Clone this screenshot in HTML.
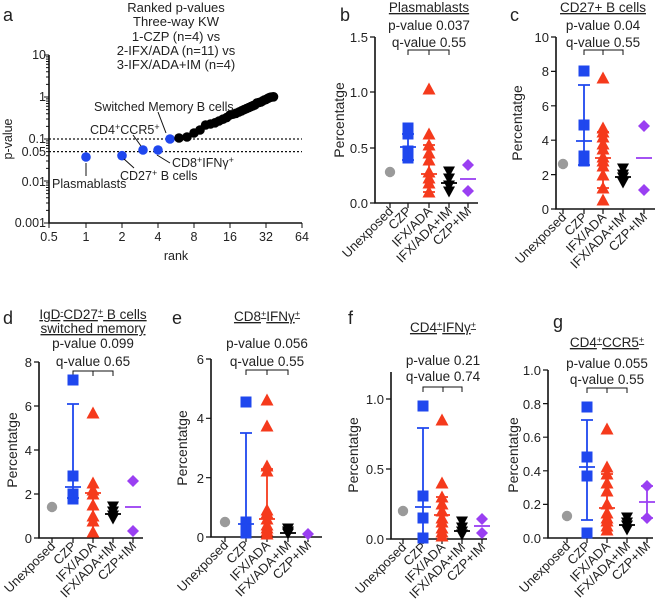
<!DOCTYPE html>
<html><head><meta charset="utf-8"><style>
html,body{margin:0;padding:0;background:#fff}
svg{display:block;font-family:"Liberation Sans",Arial,sans-serif}
text{fill:#222}
.ax{stroke:#111;stroke-width:1.6;fill:none}
.t{font-size:13px}
.ti{font-size:13.5px;text-anchor:middle}
.cat{font-size:13px;text-anchor:end}
.lab{font-size:18px}
.an{font-size:12.5px}
</style></head><body>
<svg width="661" height="607" viewBox="0 0 661 607" xmlns="http://www.w3.org/2000/svg">
<defs>
<rect id="sq" x="-5.5" y="-5.5" width="11" height="11" fill="#1f47ee"/>
<path id="tri" d="M0,-6.5 L6.5,5.5 L-6.5,5.5Z" fill="#f53a1c"/>
<path id="itri" d="M0,5.5 L6,-5.5 L-6,-5.5Z" fill="#000"/>
<path id="dia" d="M0,-6 L6,0 L0,6 L-6,0Z" fill="#9a3ff2"/>
<circle id="ci" r="5.2" fill="#9a9a9a"/>
<circle id="bd" r="4.8" fill="#1f47ee"/>
<circle id="kd" r="4.8" fill="#000"/>
</defs>

<!-- ========== Panel a ========== -->
<text x="3" y="21" class="lab">a</text>
<g style="font-size:13px" text-anchor="middle">
<text x="176" y="12">Ranked p-values</text>
<text x="176" y="26">Three-way KW</text>
<text x="176" y="41">1-CZP (n=4) vs</text>
<text x="176" y="55">2-IFX/ADA (n=11) vs</text>
<text x="176" y="69">3-IFX/ADA+IM (n=4)</text>
</g>
<path class="ax" d="M49,55 V223 H302"/>
<path stroke="#111" stroke-width="1" d="M49,55 h-5 M49,97 h-5 M49,139 h-5 M49,181 h-5 M49,223 h-5
M49,210.4h-3 M49,203h-3 M49,197.7h-3 M49,193.6h-3 M49,190.3h-3 M49,187.5h-3 M49,185.1h-3 M49,182.9h-3
M49,168.4h-3 M49,161h-3 M49,155.7h-3 M49,151.6h-3 M49,148.3h-3 M49,145.5h-3 M49,143.1h-3 M49,140.9h-3
M49,126.4h-3 M49,119h-3 M49,113.7h-3 M49,109.6h-3 M49,106.3h-3 M49,103.5h-3 M49,101.1h-3 M49,98.9h-3
M49,84.4h-3 M49,77h-3 M49,71.7h-3 M49,67.6h-3 M49,64.3h-3 M49,61.5h-3 M49,59.1h-3 M49,56.9h-3
M49,223v5 M86,223v5 M122,223v5 M158,223v5 M194,223v5 M230,223v5 M266,223v5 M302,223v5"/>
<g text-anchor="end" style="font-size:12.5px">
<text x="46" y="59">10</text><text x="46" y="101">1</text><text x="46" y="143">0.1</text>
<text x="46" y="156">0.05</text><text x="46" y="186">0.01</text><text x="46" y="227">0.001</text>
</g>
<g text-anchor="middle" style="font-size:12.5px">
<text x="49" y="241">0.5</text><text x="86" y="241">1</text><text x="122" y="241">2</text><text x="158" y="241">4</text>
<text x="194" y="241">8</text><text x="230" y="241">16</text><text x="266" y="241">32</text><text x="302" y="241">64</text>
<text x="176" y="260">rank</text>
</g>
<text transform="translate(12,139) rotate(-90)" text-anchor="middle" style="font-size:12.5px">p-value</text>
<path stroke="#111" stroke-width="1.2" stroke-dasharray="2,2" d="M49,139 H302 M49,151.6 H302"/>
<g>
<use href="#bd" x="86" y="157"/><use href="#bd" x="122" y="155.7"/><use href="#bd" x="143" y="150"/>
<use href="#bd" x="158" y="150"/><use href="#bd" x="170" y="139"/>
</g>
<g>
<use href="#kd" x="179" y="138"/><use href="#kd" x="187" y="137"/><use href="#kd" x="194" y="133"/><use href="#kd" x="200" y="130"/>
<use href="#kd" x="205.6" y="125"/><use href="#kd" x="210.5" y="124"/><use href="#kd" x="215" y="122.8"/><use href="#kd" x="219" y="121"/>
<use href="#kd" x="223" y="119.2"/><use href="#kd" x="226.6" y="117.6"/><use href="#kd" x="230" y="115"/><use href="#kd" x="233" y="114.2"/>
<use href="#kd" x="236" y="113.3"/><use href="#kd" x="239" y="112"/><use href="#kd" x="241.6" y="110.8"/><use href="#kd" x="244" y="109.7"/>
<use href="#kd" x="246.5" y="108.6"/><use href="#kd" x="248.8" y="107.6"/><use href="#kd" x="251" y="106.6"/><use href="#kd" x="253" y="105.7"/>
<use href="#kd" x="255" y="104.8"/><use href="#kd" x="257" y="103"/><use href="#kd" x="259" y="102.5"/><use href="#kd" x="261" y="102"/>
<use href="#kd" x="262.6" y="101"/><use href="#kd" x="264.3" y="100"/><use href="#kd" x="266" y="99.5"/><use href="#kd" x="267.6" y="98.5"/>
<use href="#kd" x="269" y="97.8"/><use href="#kd" x="270.7" y="97.2"/><use href="#kd" x="272" y="97"/><use href="#kd" x="273.5" y="96.8"/>
</g>
<path stroke="#111" stroke-width="1" d="M158,112 L166,133 M133,135 L141,146 M157,155 L170,163 M124,159 L134,168 M86,163 V176"/>
<g class="an">
<text x="94" y="111">Switched Memory B cells</text>
<text x="90" y="134">CD4<tspan dy="-4" font-size="9">+</tspan><tspan dy="4">CCR5</tspan><tspan dy="-4" font-size="9">+</tspan></text>
<text x="172" y="167">CD8<tspan dy="-4" font-size="9">+</tspan><tspan dy="4">IFNγ</tspan><tspan dy="-4" font-size="9">+</tspan></text>
<text x="120" y="180">CD27<tspan dy="-4" font-size="9">+</tspan><tspan dy="4"> B cells</tspan></text>
<text x="52" y="188">Plasmablasts</text>
</g>

<!-- ========== Panel b ========== -->
<text x="340" y="21" class="lab">b</text>
<text x="429" y="12" class="ti" text-decoration="underline">Plasmablasts</text>
<text x="429" y="30" class="ti">p-value 0.037</text>
<text x="429" y="47" class="ti">q-value 0.55</text>
<path stroke="#111" stroke-width="1" fill="none" d="M408,55 V50 H449 V55 M429,50 V55"/>
<path class="ax" d="M375,37 V203 H478"/>
<path stroke="#111" stroke-width="1.2" d="M375,37h-5 M375,92h-5 M375,148h-5 M375,203h-5 M390,203v5 M408,203v5 M429,203v5 M449,203v5 M468,203v5"/>
<g class="t" text-anchor="end"><text x="368" y="42">1.5</text><text x="368" y="97">1.0</text><text x="368" y="153">0.5</text><text x="368" y="208">0.0</text></g>
<text transform="translate(344,120) rotate(-90)" text-anchor="middle" style="font-size:14px">Percentatge</text>
<use href="#ci" x="390" y="172"/>
<use href="#sq" x="408" y="128"/><use href="#sq" x="408" y="134"/><use href="#sq" x="408" y="151"/><use href="#sq" x="408" y="158"/>
<path stroke="#1f47ee" stroke-width="1.8" d="M408,134V160 M402,134h12 M400,147h16 M402,160h12"/>
<use href="#tri" x="429" y="89"/><use href="#tri" x="429" y="134"/><use href="#tri" x="429" y="145"/><use href="#tri" x="429" y="153"/><use href="#tri" x="429" y="160"/><use href="#tri" x="429" y="172"/><use href="#tri" x="429" y="178"/><use href="#tri" x="429" y="183"/><use href="#tri" x="429" y="192"/>
<path stroke="#f53a1c" stroke-width="1.8" d="M429,145V192 M423,145h12 M421,174h16 M423,192h12"/>
<use href="#itri" x="449" y="172"/><use href="#itri" x="449" y="179"/><use href="#itri" x="449" y="186"/><use href="#itri" x="449" y="192"/>
<path stroke="#000" stroke-width="1.8" d="M441,183h16"/>
<use href="#dia" x="468" y="165"/><use href="#dia" x="468" y="191"/>
<path stroke="#9a3ff2" stroke-width="1.8" d="M460,179h16"/>
<g class="cat">
<text transform="translate(394,212) rotate(-45)">Unexposed</text>
<text transform="translate(412,212) rotate(-45)">CZP</text>
<text transform="translate(433,212) rotate(-45)">IFX/ADA</text>
<text transform="translate(453,212) rotate(-45)">IFX/ADA+IM</text>
<text transform="translate(472,212) rotate(-45)">CZP+IM</text>
</g>

<!-- ========== Panel c ========== -->
<text x="510" y="21" class="lab">c</text>
<text x="603" y="12" class="ti" text-decoration="underline">CD27+ B cells</text>
<text x="603" y="30" class="ti">p-value 0.04</text>
<text x="603" y="47" class="ti">q-value 0.55</text>
<path stroke="#111" stroke-width="1" fill="none" d="M584,55 V50 H623 V55 M603,50 V55"/>
<path class="ax" d="M556,37 V209 H655"/>
<path stroke="#111" stroke-width="1.2" d="M556,37h-5 M556,71.4h-5 M556,105.8h-5 M556,140.2h-5 M556,174.6h-5 M556,209h-5 M563,209v5 M584,209v5 M603,209v5 M623,209v5 M644,209v5"/>
<g class="t" text-anchor="end"><text x="549" y="42">10</text><text x="549" y="76">8</text><text x="549" y="111">6</text><text x="549" y="145">4</text><text x="549" y="180">2</text><text x="549" y="214">0</text></g>
<text transform="translate(522,123) rotate(-90)" text-anchor="middle" style="font-size:14px">Percentatge</text>
<use href="#ci" x="563" y="164"/>
<use href="#sq" x="584" y="71"/><use href="#sq" x="584" y="125"/><use href="#sq" x="584" y="156"/><use href="#sq" x="584" y="161"/>
<path stroke="#1f47ee" stroke-width="1.8" d="M584,85V165 M578,85h12 M576,141h16 M578,165h12"/>
<use href="#tri" x="603" y="78"/><use href="#tri" x="603" y="128"/><use href="#tri" x="603" y="132"/><use href="#tri" x="603" y="137"/><use href="#tri" x="603" y="144"/><use href="#tri" x="603" y="149"/><use href="#tri" x="603" y="157"/><use href="#tri" x="603" y="161"/><use href="#tri" x="603" y="166"/><use href="#tri" x="603" y="175"/><use href="#tri" x="603" y="188"/><use href="#tri" x="603" y="200"/>
<path stroke="#f53a1c" stroke-width="1.8" d="M603,132V188 M597,132h12 M595,158h16 M597,188h12"/>
<use href="#itri" x="623" y="169"/><use href="#itri" x="623" y="175"/><use href="#itri" x="623" y="178"/><use href="#itri" x="623" y="183"/>
<path stroke="#000" stroke-width="1.8" d="M615,177h16"/>
<use href="#dia" x="644" y="126"/><use href="#dia" x="644" y="190"/>
<path stroke="#9a3ff2" stroke-width="1.8" d="M636,158h16"/>
<g class="cat">
<text transform="translate(567,218) rotate(-45)">Unexposed</text>
<text transform="translate(588,218) rotate(-45)">CZP</text>
<text transform="translate(607,218) rotate(-45)">IFX/ADA</text>
<text transform="translate(627,218) rotate(-45)">IFX/ADA+IM</text>
<text transform="translate(648,218) rotate(-45)">CZP+IM</text>
</g>

<!-- ========== Panel d ========== -->
<text x="3" y="324" class="lab">d</text>
<text x="93" y="319" class="ti" text-decoration="underline">IgD<tspan dy="-4" font-size="9">-</tspan><tspan dy="4">CD27</tspan><tspan dy="-4" font-size="9">+</tspan><tspan dy="4"> B cells</tspan></text>
<text x="93" y="333" class="ti" text-decoration="underline">switched memory</text>
<text x="93" y="348" class="ti">p-value 0.099</text>
<text x="93" y="366" class="ti">q-value 0.65</text>
<path stroke="#111" stroke-width="1" fill="none" d="M73,376 V371 H113 V376 M93,371 V376"/>
<path class="ax" d="M39,362 V538 H143"/>
<path stroke="#111" stroke-width="1.2" d="M39,362h-5 M39,406h-5 M39,450h-5 M39,494h-5 M39,538h-5 M52,538v5 M73,538v5 M93,538v5 M113,538v5 M133,538v5"/>
<g class="t" text-anchor="end"><text x="32" y="367">8</text><text x="32" y="411">6</text><text x="32" y="455">4</text><text x="32" y="499">2</text><text x="32" y="543">0</text></g>
<text transform="translate(17,450) rotate(-90)" text-anchor="middle" style="font-size:14px">Percentatge</text>
<use href="#ci" x="52" y="507"/>
<use href="#sq" x="73" y="380"/><use href="#sq" x="73" y="476"/><use href="#sq" x="73" y="494"/><use href="#sq" x="73" y="499"/>
<path stroke="#1f47ee" stroke-width="1.8" d="M73,404V498 M67,404h12 M65,487h16 M67,498h12"/>
<use href="#tri" x="93" y="413"/><use href="#tri" x="93" y="483"/><use href="#tri" x="93" y="490"/><use href="#tri" x="93" y="494"/><use href="#tri" x="93" y="505"/><use href="#tri" x="93" y="516"/><use href="#tri" x="93" y="521"/><use href="#tri" x="93" y="532"/>
<path stroke="#f53a1c" stroke-width="1.8" d="M93,483V532 M85,493h16"/>
<use href="#itri" x="113" y="507"/><use href="#itri" x="113" y="512"/><use href="#itri" x="113" y="516"/><use href="#itri" x="113" y="519"/>
<path stroke="#000" stroke-width="1.8" d="M105,514h16"/>
<use href="#dia" x="133" y="481"/><use href="#dia" x="133" y="531"/>
<path stroke="#9a3ff2" stroke-width="1.8" d="M125,507h16"/>
<g class="cat">
<text transform="translate(56,547) rotate(-45)">Unexposed</text>
<text transform="translate(77,547) rotate(-45)">CZP</text>
<text transform="translate(97,547) rotate(-45)">IFX/ADA</text>
<text transform="translate(117,547) rotate(-45)">IFX/ADA+IM</text>
<text transform="translate(137,547) rotate(-45)">CZP+IM</text>
</g>

<!-- ========== Panel e ========== -->
<text x="172" y="324" class="lab">e</text>
<text x="267" y="321" class="ti" text-decoration="underline">CD8<tspan dy="-4" font-size="9">+</tspan><tspan dy="4">IFNγ</tspan><tspan dy="-4" font-size="9">+</tspan></text>
<text x="267" y="348" class="ti">p-value 0.056</text>
<text x="267" y="366" class="ti">q-value 0.55</text>
<path stroke="#111" stroke-width="1" fill="none" d="M246,375 V370 H288 V375 M267,370 V375"/>
<path class="ax" d="M211,359 V537 H322"/>
<path stroke="#111" stroke-width="1.2" d="M211,359h-5 M211,418.3h-5 M211,477.7h-5 M211,537h-5 M225,537v5 M246,537v5 M267,537v5 M288,537v5 M308,537v5"/>
<g class="t" text-anchor="end"><text x="204" y="364">6</text><text x="204" y="423">4</text><text x="204" y="483">2</text><text x="204" y="542">0</text></g>
<text transform="translate(187,448) rotate(-90)" text-anchor="middle" style="font-size:14px">Percentatge</text>
<use href="#ci" x="225" y="522"/>
<use href="#sq" x="246" y="402"/><use href="#sq" x="246" y="522"/><use href="#sq" x="246" y="528"/><use href="#sq" x="246" y="533"/>
<path stroke="#1f47ee" stroke-width="1.8" d="M246,433V537 M240,433h12 M238,524h16"/>
<use href="#tri" x="267" y="400"/><use href="#tri" x="267" y="426"/><use href="#tri" x="267" y="466"/><use href="#tri" x="267" y="471"/><use href="#tri" x="267" y="510"/><use href="#tri" x="267" y="513"/><use href="#tri" x="267" y="519"/><use href="#tri" x="267" y="525"/><use href="#tri" x="267" y="528"/><use href="#tri" x="267" y="531"/><use href="#tri" x="267" y="534"/>
<path stroke="#f53a1c" stroke-width="1.8" d="M267,469V537 M261,469h12 M259,519h16"/>
<use href="#itri" x="288" y="529"/><use href="#itri" x="288" y="532"/><use href="#itri" x="288" y="534"/>
<path stroke="#000" stroke-width="1.8" d="M280,533h16"/>
<use href="#dia" x="308" y="534"/>
<g class="cat">
<text transform="translate(229,546) rotate(-45)">Unexposed</text>
<text transform="translate(250,546) rotate(-45)">CZP</text>
<text transform="translate(271,546) rotate(-45)">IFX/ADA</text>
<text transform="translate(292,546) rotate(-45)">IFX/ADA+IM</text>
<text transform="translate(312,546) rotate(-45)">CZP+IM</text>
</g>

<!-- ========== Panel f ========== -->
<text x="348" y="324" class="lab">f</text>
<text x="443" y="332" class="ti" text-decoration="underline">CD4<tspan dy="-4" font-size="9">+</tspan><tspan dy="4">IFNγ</tspan><tspan dy="-4" font-size="9">+</tspan></text>
<text x="443" y="365" class="ti">p-value 0.21</text>
<text x="443" y="381" class="ti">q-value 0.74</text>
<path stroke="#111" stroke-width="1" fill="none" d="M423,392 V387 H462 V392 M443,387 V392"/>
<path class="ax" d="M391,372 V539 H487"/>
<path stroke="#111" stroke-width="1.2" d="M391,399h-5 M391,469h-5 M391,539h-5 M403,539v5 M423,539v5 M442,539v5 M462,539v5 M482,539v5"/>
<g class="t" text-anchor="end"><text x="384" y="404">1.0</text><text x="384" y="474">0.5</text><text x="384" y="544">0.0</text></g>
<text transform="translate(358,455) rotate(-90)" text-anchor="middle" style="font-size:14px">Percentatge</text>
<use href="#ci" x="403" y="511"/>
<use href="#sq" x="423" y="406"/><use href="#sq" x="423" y="496"/><use href="#sq" x="423" y="518"/><use href="#sq" x="423" y="538"/>
<path stroke="#1f47ee" stroke-width="1.8" d="M423,428V539 M417,428h12 M415,507h16"/>
<use href="#tri" x="442" y="420"/><use href="#tri" x="442" y="483"/><use href="#tri" x="442" y="497"/><use href="#tri" x="442" y="504"/><use href="#tri" x="442" y="511"/><use href="#tri" x="442" y="518"/><use href="#tri" x="442" y="522"/><use href="#tri" x="442" y="528"/><use href="#tri" x="442" y="532"/><use href="#tri" x="442" y="536"/>
<path stroke="#f53a1c" stroke-width="1.8" d="M442,497V536 M436,497h12 M434,515h16"/>
<use href="#itri" x="462" y="522"/><use href="#itri" x="462" y="528"/><use href="#itri" x="462" y="532"/><use href="#itri" x="462" y="535"/>
<path stroke="#000" stroke-width="1.8" d="M454,531h16"/>
<use href="#dia" x="482" y="519"/><use href="#dia" x="482" y="533"/>
<path stroke="#9a3ff2" stroke-width="1.8" d="M474,526h16"/>
<g class="cat">
<text transform="translate(407,548) rotate(-45)">Unexposed</text>
<text transform="translate(427,548) rotate(-45)">CZP</text>
<text transform="translate(446,548) rotate(-45)">IFX/ADA</text>
<text transform="translate(466,548) rotate(-45)">IFX/ADA+IM</text>
<text transform="translate(486,548) rotate(-45)">CZP+IM</text>
</g>

<!-- ========== Panel g ========== -->
<text x="553" y="328" class="lab">g</text>
<text x="607" y="347" class="ti" text-decoration="underline">CD4<tspan dy="-4" font-size="9">+</tspan><tspan dy="4">CCR5</tspan><tspan dy="-4" font-size="9">+</tspan></text>
<text x="607" y="368" class="ti">p-value 0.055</text>
<text x="607" y="384" class="ti">q-value 0.55</text>
<path stroke="#111" stroke-width="1" fill="none" d="M587,393 V388 H627 V393 M607,388 V393"/>
<path class="ax" d="M548,370 V538 H653"/>
<path stroke="#111" stroke-width="1.2" d="M548,370h-5 M548,403.6h-5 M548,437.2h-5 M548,470.8h-5 M548,504.4h-5 M548,538h-5 M567,538v5 M587,538v5 M607,538v5 M627,538v5 M647,538v5"/>
<g class="t" text-anchor="end"><text x="541" y="375">1.0</text><text x="541" y="409">0.8</text><text x="541" y="442">0.6</text><text x="541" y="476">0.4</text><text x="541" y="509">0.2</text><text x="541" y="543">0.0</text></g>
<text transform="translate(518,455) rotate(-90)" text-anchor="middle" style="font-size:14px">Percentatge</text>
<use href="#ci" x="567" y="516"/>
<use href="#sq" x="587" y="407"/><use href="#sq" x="587" y="457"/><use href="#sq" x="587" y="476"/><use href="#sq" x="587" y="533"/>
<path stroke="#1f47ee" stroke-width="1.8" d="M587,420V520 M581,420h12 M579,467h16 M581,520h12"/>
<use href="#tri" x="607" y="429"/><use href="#tri" x="607" y="467"/><use href="#tri" x="607" y="474"/><use href="#tri" x="607" y="483"/><use href="#tri" x="607" y="491"/><use href="#tri" x="607" y="504"/><use href="#tri" x="607" y="513"/><use href="#tri" x="607" y="518"/><use href="#tri" x="607" y="521"/><use href="#tri" x="607" y="526"/><use href="#tri" x="607" y="530"/>
<path stroke="#f53a1c" stroke-width="1.8" d="M607,474V530 M601,474h12 M599,508h16"/>
<use href="#itri" x="627" y="518"/><use href="#itri" x="627" y="523"/><use href="#itri" x="627" y="526"/><use href="#itri" x="627" y="530"/>
<path stroke="#000" stroke-width="1.8" d="M619,525h16"/>
<use href="#dia" x="647" y="486"/><use href="#dia" x="647" y="518"/>
<path stroke="#9a3ff2" stroke-width="1.8" d="M647,486V518 M641,486h12 M639,502h16 M641,518h12"/>
<g class="cat">
<text transform="translate(571,547) rotate(-45)">Unexposed</text>
<text transform="translate(591,547) rotate(-45)">CZP</text>
<text transform="translate(611,547) rotate(-45)">IFX/ADA</text>
<text transform="translate(631,547) rotate(-45)">IFX/ADA+IM</text>
<text transform="translate(651,547) rotate(-45)">CZP+IM</text>
</g>
</svg>
</body></html>
